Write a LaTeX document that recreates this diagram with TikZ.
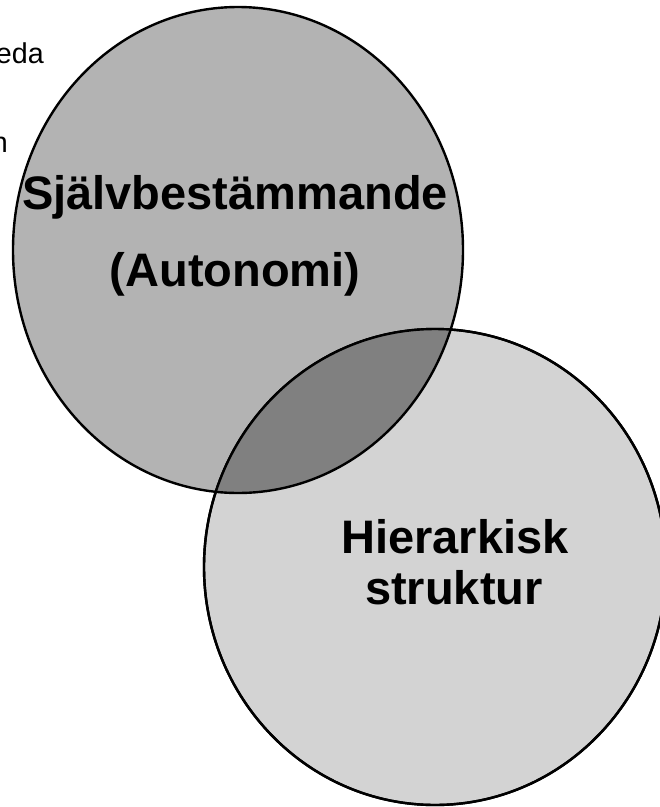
\documentclass[tikz,border=0pt]{standalone}
\usepackage{fontspec}
\setmainfont{Liberation Sans}
\begin{document}
\begin{tikzpicture}[x=0.75pt,y=-0.75pt,
  outl/.style={draw=black,line width=1.8pt},
  bigtxt/.style={font=\fontsize{35.25}{40}\selectfont\bfseries,anchor=base,inner sep=0pt},
  smalltxt/.style={font=\fontsize{21.5}{24}\selectfont,anchor=base east,inner sep=0pt}]
\useasboundingbox (0,0) rectangle (660,807);
\clip (0,0) rectangle (660,807);
\def\circA{(238,250) ellipse [x radius=225, y radius=243]}
\def\circB{(435,567) ellipse [x radius=231, y radius=238]}
\node[smalltxt] (t1) at (44,63) {eda};
\node[smalltxt] (t2) at (8,152) {n};
% first circle
\path[fill={rgb,255:red,179;green,179;blue,179},outl] \circA;
% second circle
\path[fill={rgb,255:red,211;green,211;blue,211},outl] \circB;
% intersection
\begin{scope}
  \clip \circA;
  \path[fill={rgb,255:red,128;green,128;blue,128}] \circB;
\end{scope}
\begin{scope}
  \clip \circB;
  \path[outl] \circA;
\end{scope}
\path[outl] \circB;
\node[bigtxt] (a1) at (235,209) {Självbestämmande};
\node[bigtxt] (a2) at (235,286) {(Autonomi)};
\node[bigtxt] (b1) at (455,553) {Hierarkisk};
\node[bigtxt] (b2) at (454,604) {struktur};
\end{tikzpicture}
\end{document}
